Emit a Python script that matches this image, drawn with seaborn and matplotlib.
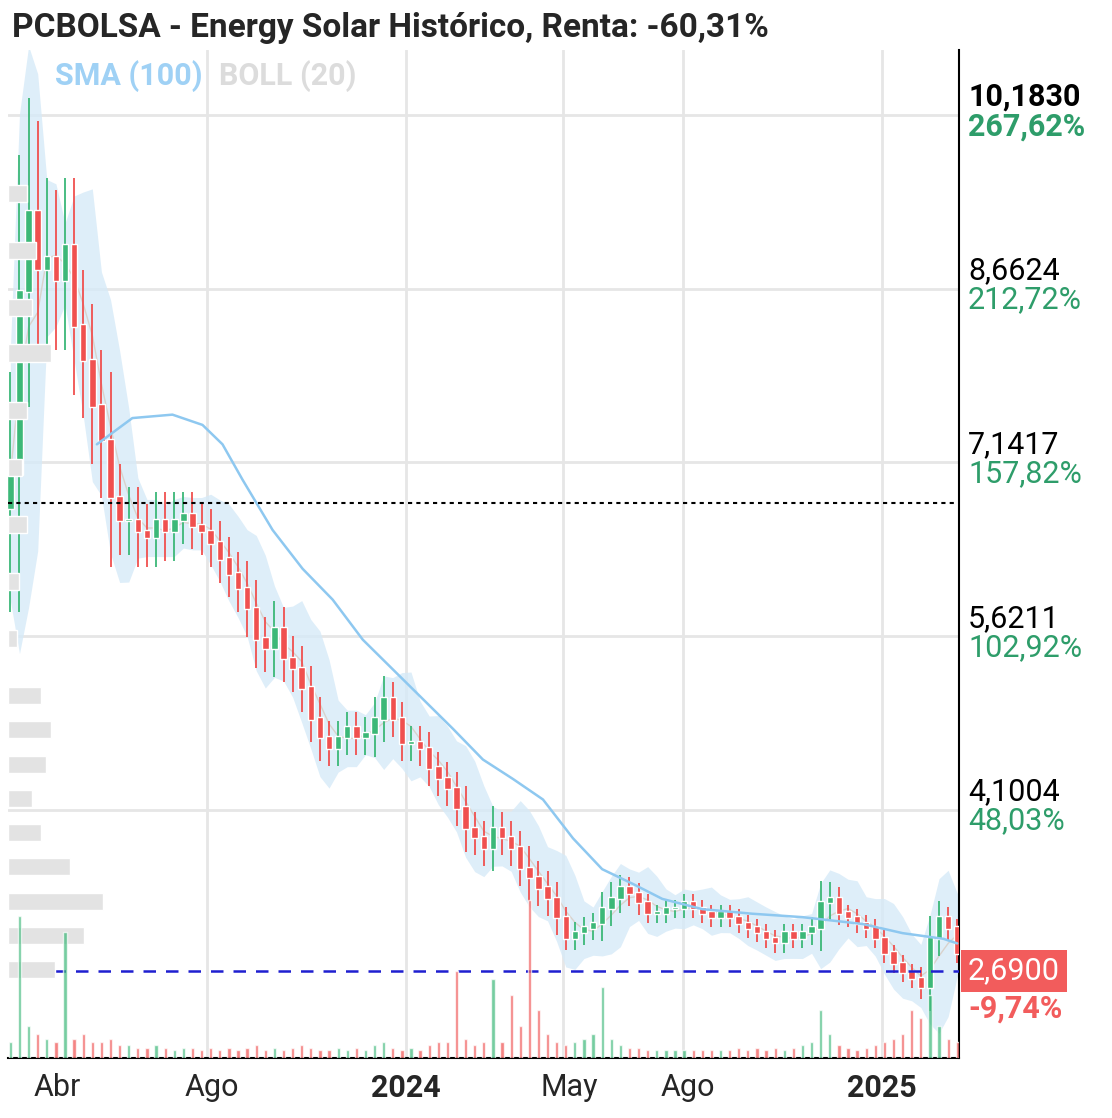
import numpy as np
import pandas as pd
import matplotlib
matplotlib.use("Agg")
import matplotlib.pyplot as plt
import matplotlib.dates as mdates
import seaborn as sns

sns.set_style("white")
plt.rcParams['font.family'] = ['Roboto', 'DejaVu Sans']

# cierres semanales (desde 2023-03-03)
start = pd.Timestamp("2023-03-03")
closes = [7.03, 8.63, 9.33, 8.83, 8.93, 8.73, 9.03, 8.33, 8.03, 7.63,
          7.33, 6.83, 6.63, 6.63, 6.53, 6.48, 6.63, 6.53, 6.63, 6.68,
          6.58, 6.53, 6.43, 6.29, 6.16, 6.03, 5.86, 5.59, 5.51, 5.68,
          5.42, 5.33, 5.16, 4.89, 4.73, 4.63, 4.73, 4.81, 4.73, 4.76,
          4.89, 5.07, 4.89, 4.68, 4.68, 4.63, 4.46, 4.37, 4.28, 4.11,
          3.93, 3.85, 3.76, 3.93, 3.85, 3.76, 3.58, 3.5, 3.41, 3.32,
          3.15, 2.97, 3.02, 3.06, 3.1, 3.23, 3.32, 3.41, 3.36, 3.28,
          3.19, 3.19, 3.23, 3.23, 3.28, 3.23, 3.19, 3.15, 3.19, 3.15,
          3.1, 3.06, 3.02, 2.97, 2.93, 3.02, 2.97, 3.02, 3.06, 3.28,
          3.32, 3.19, 3.15, 3.1, 3.06, 2.97, 2.84, 2.75, 2.67, 2.62,
          2.54, 2.97, 3.15, 3.06, 2.84, 2.72]
wicks = [0.9, 1.2, 1.0, 0.8, 0.7, 0.6, 0.6, 0.6, 0.5, 0.5,
         0.5, 0.6, 0.3, 0.3, 0.3, 0.25, 0.25, 0.25, 0.25, 0.2,
         0.2, 0.2, 0.2, 0.2, 0.2, 0.2, 0.25, 0.25, 0.2, 0.25,
         0.2, 0.2, 0.2, 0.2, 0.2, 0.15, 0.15, 0.15, 0.15, 0.15,
         0.2, 0.2, 0.15, 0.15, 0.15, 0.15, 0.15, 0.15, 0.15, 0.15,
         0.2, 0.15, 0.15, 0.2, 0.15, 0.15, 0.15, 0.2, 0.15, 0.15,
         0.15, 0.1, 0.1, 0.1, 0.1, 0.15, 0.15, 0.12, 0.1, 0.1,
         0.08, 0.08, 0.08, 0.08, 0.08, 0.08, 0.08, 0.08, 0.08, 0.08,
         0.08, 0.08, 0.08, 0.08, 0.08, 0.08, 0.08, 0.08, 0.1, 0.2,
         0.15, 0.1, 0.08, 0.08, 0.08, 0.08, 0.08, 0.08, 0.08, 0.08,
         0.1, 0.2, 0.15, 0.1, 0.08, 0.06]
volumes = [10, 90, 20, 15, 12, 10, 80, 12, 15, 10,
           10, 12, 8, 8, 6, 6, 8, 6, 5, 6,
           6, 5, 6, 5, 6, 5, 6, 8, 5, 6,
           5, 6, 8, 6, 5, 5, 6, 5, 6, 5,
           8, 10, 6, 5, 6, 5, 8, 10, 10, 55,
           12, 8, 10, 50, 10, 40, 20, 100, 30, 15,
           10, 8, 10, 12, 15, 45, 12, 8, 6, 6,
           5, 5, 5, 5, 5, 5, 5, 5, 5, 5,
           6, 5, 6, 5, 6, 5, 6, 8, 10, 30,
           15, 8, 6, 5, 6, 8, 10, 12, 15, 30,
           25, 40, 20, 12, 10, 8]

# SMA(100) (indice de semana, valor)
sma_week = [9.5, 13.4, 17.8, 21.1, 23.3, 25.5, 28.8, 32.1, 35.4, 38.7,
            42, 45.3, 48.6, 51.9, 55.2, 58.5, 61.8, 65, 68.4, 71.6,
            76, 81.5, 87, 93.6, 98, 102.5, 104]
sma_vals = [7.3, 7.53, 7.56, 7.47, 7.3, 6.99, 6.55, 6.21, 5.94, 5.59,
            5.33, 5.07, 4.81, 4.54, 4.37, 4.19, 3.85, 3.58, 3.45, 3.32,
            3.23, 3.19, 3.16, 3.1, 3.02, 2.97, 2.93]

# perfil de volumen (precio, ancho relativo)
prof_price = [9.5, 9.0, 8.5, 8.1, 7.6, 7.1, 6.6, 6.1, 5.6, 5.1, 4.8, 4.5, 4.2, 3.9, 3.6, 3.3, 3.0, 2.7]
prof_width = [0.02, 0.03, 0.025, 0.045, 0.02, 0.015, 0.02, 0.012, 0.01, 0.035, 0.045, 0.04, 0.025, 0.035, 0.065, 0.1, 0.08, 0.05]

ticks_price = [10.1830, 8.6624, 7.1417, 5.6211, 4.1004]
ticks_pct = ["267,62%", "212,72%", "157,82%", "102,92%", "48,03%"]
last_price = 2.69
ref_price = 6.79

GREEN = "#3cb878"
RED = "#f0504f"

dates = [start + pd.Timedelta(weeks=i) for i in range(len(closes))]
df = pd.DataFrame({"date": dates, "close": closes, "wick": wicks, "vol": volumes})
df["open"] = df["close"].shift(1).fillna(df["close"].iloc[0] - 0.3)
df["high"] = df[["open", "close"]].max(axis=1) + df["wick"]
df["low"] = df[["open", "close"]].min(axis=1) - df["wick"]
mid = df["close"].rolling(4, min_periods=1).mean()
sd = df["close"].rolling(4, min_periods=2).std().fillna(0.5)
df["up"] = mid + 2 * sd + 0.1
df["dn"] = mid - 2 * sd - 0.1
df["mid"] = mid
sma = pd.DataFrame({"date": [start + pd.Timedelta(days=7 * w) for w in sma_week], "sma": sma_vals})

fig = plt.figure(figsize=(11.12, 11.18), dpi=100)
ax = fig.add_axes([0.007, 0.054, 0.855, 0.901])

ax.fill_between(df["date"], df["dn"], df["up"], color="#d6eaf8", alpha=0.8, lw=0)
ax.plot(df["date"], df["mid"], color="#d9d2cc", lw=1)

# perfil de volumen
axp = ax.twiny()
axp.barh(prof_price, prof_width, height=0.15, color="#e3e3e3", zorder=0)
axp.set_xlim(0, 1)
axp.axis("off")

# volumen
axv = ax.twinx()
vcol = [GREEN if c >= o else RED for c, o in zip(df["close"], df["open"])]
axv.bar(df["date"], df["vol"], width=2.5, color=vcol, alpha=0.7)
axv.set_ylim(0, 640)
axv.axis("off")

for _, r in df.iterrows():
    c = GREEN if r["close"] >= r["open"] else RED
    ax.vlines(r["date"], r["low"], r["high"], color=c, lw=1.3, zorder=3)
    ax.bar(r["date"], abs(r["close"] - r["open"]) + 0.02, bottom=min(r["open"], r["close"]),
           width=5, color=c, zorder=4)

sns.lineplot(data=sma, x="date", y="sma", ax=ax, color="#8ec8f0", lw=1.8, zorder=5)

ax.axhline(ref_price, color="black", ls=(0, (2, 2)), lw=1.5, zorder=6)
ax.axhline(last_price, color="#1f1fd0", ls=(0, (5, 4)), lw=1.8, zorder=6)

ax.set_ylim(1.93, 10.75)
ax.set_xlim(pd.Timestamp("2023-03-01"), pd.Timestamp("2025-03-01"))
ax.set_yticks(ticks_price)
ax.set_yticklabels([])
grid_dates = [pd.Timestamp(d) for d in ["2023-08-01", "2024-01-01", "2024-05-01", "2024-08-01", "2025-01-01"]]
ax.set_xticks(grid_dates)
ax.set_xticklabels([])
ax.tick_params(length=0)
ax.grid(True, color="#e6e6e6", lw=2)
ax.set_xlabel("")
ax.set_ylabel("")
for s in ["top", "left"]:
    ax.spines[s].set_visible(False)
ax.spines["right"].set_color("black")
ax.spines["bottom"].set_color("black")
ax.spines["right"].set_linewidth(1.5)
ax.spines["bottom"].set_linewidth(1.5)

# etiquetas de precio
FS = 22
for i, (p, t) in enumerate(zip(ticks_price, ticks_pct)):
    ax.text(1.01, p + 0.03, f"{p:.4f}".replace(".", ","), transform=ax.get_yaxis_transform(),
            fontsize=FS, va="bottom", color="black", fontweight="bold" if i == 0 else "normal")
    ax.text(1.01, p + 0.03, t, transform=ax.get_yaxis_transform(), fontsize=FS, va="top",
            color="#2e9d6a", fontweight="bold" if i == 0 else "normal")
ax.text(1.01, last_price, "2,6900", transform=ax.get_yaxis_transform(), fontsize=FS,
        va="center", color="white",
        bbox=dict(boxstyle="square,pad=0.22", fc="#f25c5c", ec="none"))
ax.text(1.01, last_price - 0.2, "-9,74%", transform=ax.get_yaxis_transform(), fontsize=FS,
        va="top", color="#f25c5c", fontweight="bold")

# etiquetas de fecha
xlabels = [("2023-04-08", "Abr", "normal"), ("2023-08-05", "Ago", "normal"),
           ("2024-01-01", "2024", "bold"), ("2024-05-06", "May", "normal"),
           ("2024-08-05", "Ago", "normal"), ("2025-01-01", "2025", "bold")]
for d, t, w in xlabels:
    ax.text(pd.Timestamp(d), -0.03, t, transform=ax.get_xaxis_transform(), ha="center",
            va="center", fontsize=FS, fontweight=w)

ax.text(0.05, 0.974, "SMA (100)", transform=ax.transAxes, fontsize=FS, fontweight="bold",
        color="#9fd1f5", va="center")
ax.text(0.222, 0.974, "BOLL (20)", transform=ax.transAxes, fontsize=FS, fontweight="bold",
        color="#dcdcdc", va="center")

fig.text(0.011, 0.975, "PCBOLSA - Energy Solar Histórico, Renta: -60,31%", fontsize=24,
         fontweight="bold", va="center")

fig.savefig("out.png", dpi=100)
